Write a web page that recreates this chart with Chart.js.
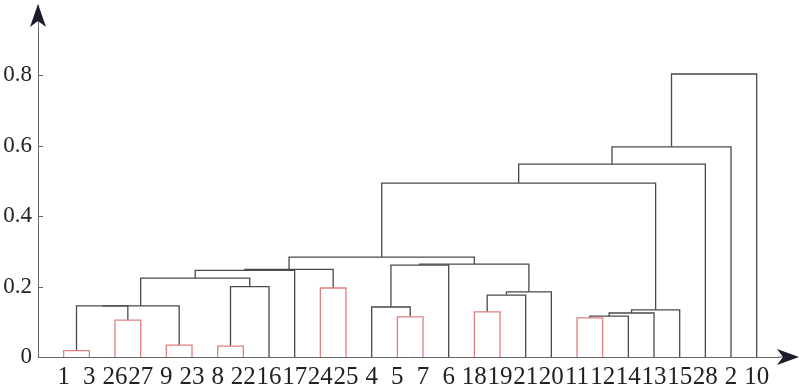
<!DOCTYPE html>
<html lang="es">
<head>
<meta charset="UTF-8">
<title>Dendrograma</title>
<script src="https://cdn.jsdelivr.net/npm/chart.js@4.4.1/dist/chart.umd.min.js"></script>
<style>
    html, body { margin: 0; padding: 0; background: #ffffff; }
    #contenedor { width: 800px; height: 388px; position: relative; }
</style>
</head>
<body>
<div id="contenedor"><canvas id="graficaDendrograma"></canvas></div>
<script>
// Hojas en el orden en que aparecen sobre el eje horizontal
const etiquetasHojas = ['1', '3', '26', '27', '9', '23', '8', '22', '16', '17', '24', '25', '4', '5', '7',
    '6', '18', '19', '21', '20', '11', '12', '14', '13', '15', '28', '2', '10'];

// Uniones: índices 0-27 son hojas, 28 en adelante son uniones anteriores (en este mismo orden)
const unionIzquierda = [0, 2, 4, 6, 28, 32, 31, 33, 35, 10, 36, 13, 12, 40, 16, 42, 43, 41, 38, 20, 47, 48, 49, 46, 51, 52, 53];
const unionDerecha   = [1, 3, 5, 7, 29, 30, 8, 34, 9, 11, 37, 14, 39, 15, 17, 18, 19, 44, 45, 21, 22, 23, 24, 50, 25, 26, 27];
const alturaUnion    = [0.018, 0.105, 0.034, 0.031, 0.145, 0.145, 0.200, 0.224, 0.246, 0.196, 0.249, 0.114, 0.142, 0.261,
    0.128, 0.176, 0.185, 0.264, 0.284, 0.111, 0.116, 0.125, 0.134, 0.494, 0.548, 0.597, 0.804];
const unionRoja      = [true, true, true, true, false, false, false, false, false, true, false, true, false, false,
    true, false, false, false, false, true, false, false, false, false, false, false, false];

// Marcas del eje vertical
const marcasEjeY = [0, 0.2, 0.4, 0.6, 0.8];

const fuenteSerif = "'Liberation Serif', 'Times New Roman', serif";

// Convierte la lista de uniones en segmentos en forma de "U" invertida
function construirSegmentos() {
    const posicionX = etiquetasHojas.map((_, i) => i + 1);
    const alturas = etiquetasHojas.map(() => 0);
    const datasets = [];

    for (let k = 0; k < alturaUnion.length; k++) {
        const a = unionIzquierda[k];
        const b = unionDerecha[k];
        const h = alturaUnion[k];
        datasets.push({
            data: [
                { x: posicionX[a], y: alturas[a] },
                { x: posicionX[a], y: h },
                { x: posicionX[b], y: h },
                { x: posicionX[b], y: alturas[b] }
            ],
            borderColor: unionRoja[k] ? '#e08080' : '#4a4a4a',
            borderWidth: 1.3,
            showLine: true,
            pointRadius: 0,
            tension: 0,
            fill: false,
            clip: false
        });
        posicionX.push((posicionX[a] + posicionX[b]) / 2);
        alturas.push(h);
    }
    return datasets;
}

// Flechas de los ejes y marcas cortas hacia dentro
const pluginEjes = {
    id: 'ejesConFlecha',
    afterDraw(chart) {
        const { ctx, chartArea, scales } = chart;
        const y0 = scales.y.getPixelForValue(0);
        ctx.save();
        ctx.strokeStyle = '#666666';
        ctx.lineWidth = 1;

        marcasEjeY.slice(1).forEach(v => {
            const y = Math.round(scales.y.getPixelForValue(v)) + 0.5;
            ctx.beginPath();
            ctx.moveTo(chartArea.left, y);
            ctx.lineTo(chartArea.left + 5, y);
            ctx.stroke();
        });

        ctx.beginPath();
        ctx.moveTo(chartArea.right, y0);
        ctx.lineTo(chartArea.right + 18, y0);
        ctx.stroke();

        ctx.fillStyle = '#1c1c2c';
        const xi = chartArea.left;
        const ys = chartArea.top;
        ctx.beginPath();
        ctx.moveTo(xi, ys - 1);
        ctx.lineTo(xi - 8, ys + 22);
        ctx.lineTo(xi, ys + 16);
        ctx.lineTo(xi + 8, ys + 22);
        ctx.closePath();
        ctx.fill();

        const xd = chartArea.right;
        ctx.beginPath();
        ctx.moveTo(xd + 21, y0);
        ctx.lineTo(xd - 1, y0 - 8);
        ctx.lineTo(xd + 5, y0);
        ctx.lineTo(xd - 1, y0 + 8);
        ctx.closePath();
        ctx.fill();
        ctx.restore();
    }
};

const ctx = document.getElementById('graficaDendrograma').getContext('2d');
new Chart(ctx, {
    type: 'scatter',
    data: { datasets: construirSegmentos() },
    options: {
        responsive: true,
        maintainAspectRatio: false,
        animation: false,
        layout: { padding: { top: 5, right: 22, left: 0, bottom: 0 } },
        plugins: {
            legend: { display: false },
            tooltip: { enabled: false }
        },
        scales: {
            x: {
                type: 'linear',
                min: 0,
                max: 28.83,
                afterBuildTicks: eje => { eje.ticks = etiquetasHojas.map((_, i) => ({ value: i + 1 })); },
                afterFit: eje => { eje.height = 31; eje.paddingLeft = 0; eje.paddingRight = 0; },
                grid: { display: false, drawTicks: false },
                border: { display: true, color: '#666666', width: 1 },
                ticks: {
                    autoSkip: false,
                    maxRotation: 0,
                    minRotation: 0,
                    padding: 5,
                    color: '#222222',
                    font: { family: fuenteSerif, size: 25 },
                    callback: v => etiquetasHojas[Math.round(v) - 1]
                }
            },
            y: {
                type: 'linear',
                min: 0,
                max: 1.0,
                afterBuildTicks: eje => { eje.ticks = marcasEjeY.map(v => ({ value: v })); },
                afterFit: eje => { eje.width = 38; eje.paddingTop = 0; eje.paddingBottom = 0; },
                grid: { display: false, drawTicks: false },
                border: { display: true, color: '#666666', width: 1 },
                ticks: {
                    padding: 6,
                    color: '#222222',
                    font: { family: fuenteSerif, size: 23 },
                    callback: v => (v === 0 ? '0' : v.toFixed(1))
                }
            }
        }
    },
    plugins: [pluginEjes]
});
</script>
</body>
</html>
